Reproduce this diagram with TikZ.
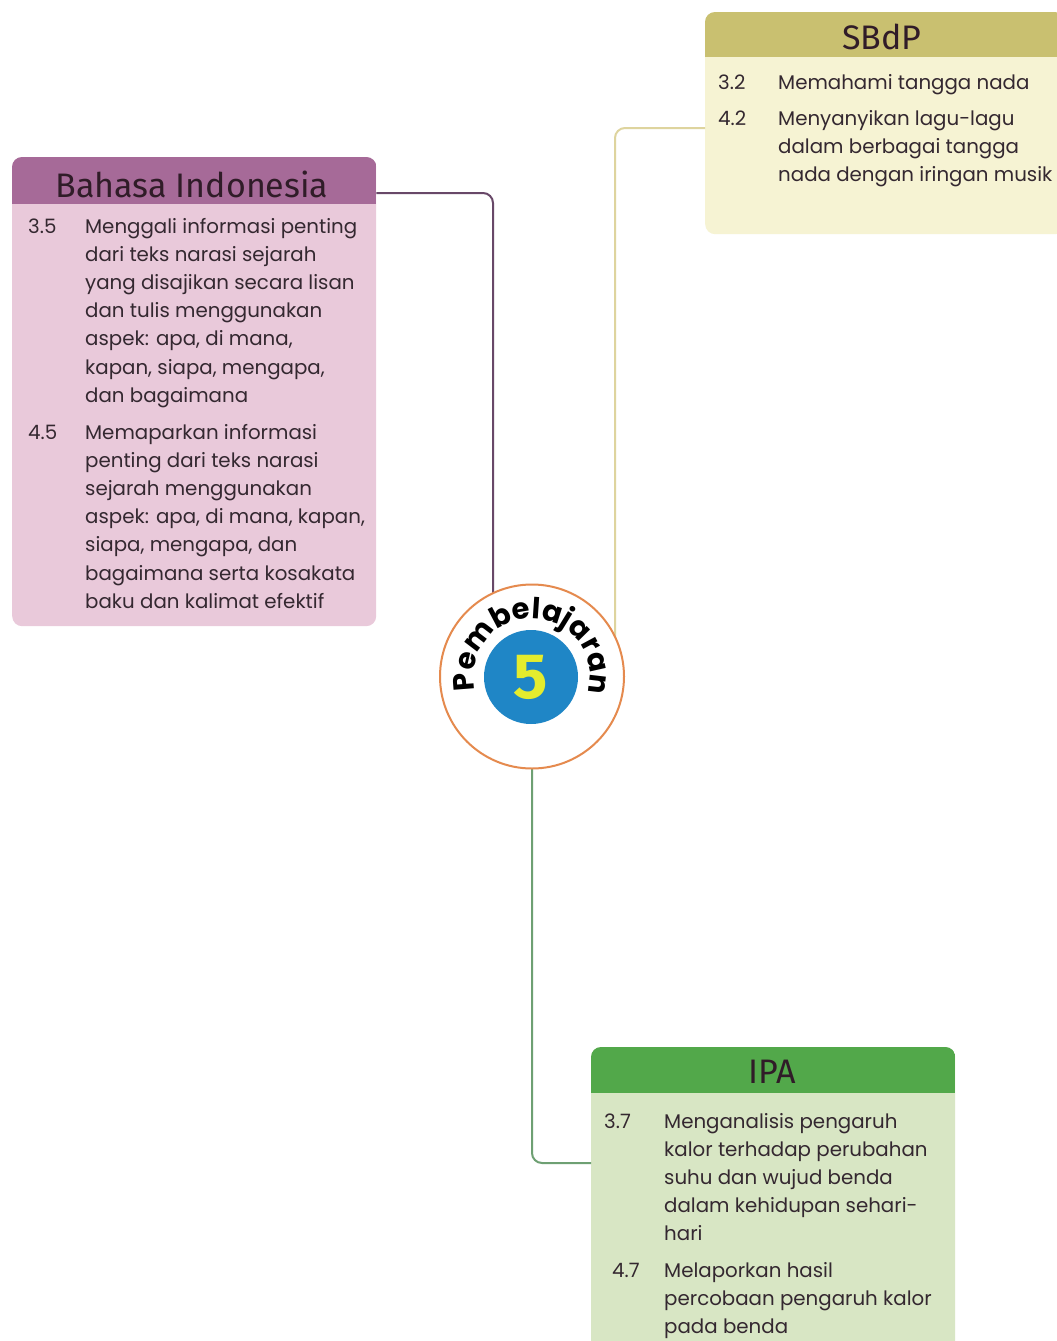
\documentclass[tikz,border=0pt]{standalone}
\usepackage{fontspec}
\setmainfont{Poppins}
\newfontfamily\headfont{Fira Sans}
\newfontfamily\ringfont{Poppins}
\newfontfamily\digitfont{Fira Sans}
\usetikzlibrary{decorations.text,calc}

\definecolor{bihead}{RGB}{166,106,152}
\definecolor{bibody}{RGB}{233,201,218}
\definecolor{biline}{RGB}{104,72,104}
\definecolor{sbhead}{RGB}{201,192,112}
\definecolor{sbbody}{RGB}{246,243,211}
\definecolor{sbline}{RGB}{222,212,158}
\definecolor{ipahead}{RGB}{82,168,74}
\definecolor{ipabody}{RGB}{216,230,196}
\definecolor{ipaline}{RGB}{110,160,115}
\definecolor{ringcol}{RGB}{229,138,78}
\definecolor{bluedisc}{RGB}{31,134,198}
\definecolor{fivecol}{RGB}{228,236,46}
\definecolor{bodytext}{RGB}{52,40,48}
\definecolor{headtext}{RGB}{48,28,40}

\tikzset{
  panel/.style={rounded corners=10pt, inner sep=0pt, anchor=north west},
  title/.style={font=\headfont\fontsize{34}{34}\selectfont, text=headtext, inner sep=0pt},
  % multi-line items are placed by the baseline of their last line
  item/.style={font=\fontsize{19.8}{28.2}\selectfont, text=bodytext, align=left, inner sep=0pt, anchor=base west},
  num/.style={font=\fontsize{19.8}{28.2}\selectfont, text=bodytext, inner sep=0pt, anchor=base west},
  link/.style={rounded corners=10pt, line width=2pt}
}

\begin{document}
\begin{tikzpicture}[x=1pt,y=-1pt]
\useasboundingbox (0,0) rectangle (1057,1341);
\fill[white] (0,0) rectangle (1057,1341);

% panels
\node[panel, fill=bibody, minimum width=364pt, minimum height=469pt] (bi) at (12,157) {};
\node[panel, fill=sbbody, minimum width=360pt, minimum height=222pt] (sb) at (705,12) {};
\node[panel, fill=ipabody, minimum width=364pt, minimum height=330pt] (ipa) at (591,1047) {};

% coloured header strips
\begin{scope}
  \clip[rounded corners=10pt] (bi.north west) rectangle (bi.south east);
  \fill[bihead] (bi.north west) rectangle ++(364,47);
\end{scope}
\begin{scope}
  \clip[rounded corners=10pt] (sb.north west) rectangle (sb.south east);
  \fill[sbhead] (sb.north west) rectangle ++(360,45);
\end{scope}
\begin{scope}
  \clip[rounded corners=10pt] (ipa.north west) rectangle (ipa.south east);
  \fill[ipahead] (ipa.north west) rectangle ++(364,46);
\end{scope}

% titles
\node[title] (bititle) at (192,184) {Bahasa Indonesia};
\node[title] (sbtitle) at (882,37) {SBdP};
\node[title] (ipatitle) at (772,1072) {IPA};

% Bahasa Indonesia items
\node[num] (bin1) at (28,233) {3.5};
\node[item] (bit1) at (85,402.2) {Menggali informasi penting\\dari teks narasi sejarah\\yang disajikan secara lisan\\dan tulis menggunakan\\aspek: apa, di mana,\\kapan, siapa, mengapa,\\dan bagaimana};
\node[num] (bin2) at (28,439) {4.5};
\node[item] (bit2) at (85,608.2) {Memaparkan informasi\\penting dari teks narasi\\sejarah menggunakan\\aspek: apa, di mana, kapan,\\siapa, mengapa, dan\\bagaimana serta kosakata\\baku dan kalimat efektif};

% SBdP items
\node[num] (sbn1) at (718,89) {3.2};
\node[item] (sbt1) at (778,89) {Memahami tangga nada};
\node[num] (sbn2) at (718,125) {4.2};
\node[item] (sbt2) at (778,181.4) {Menyanyikan lagu-lagu\\dalam berbagai tangga\\nada dengan iringan musik};

% IPA items
\node[num] (ipan1) at (604,1128) {3.7};
\node[item] (ipat1) at (664,1240.8) {Menganalisis pengaruh\\kalor terhadap perubahan\\suhu dan wujud benda\\dalam kehidupan sehari-\\hari};
\node[num] (ipan2) at (612,1277) {4.7};
\node[item] (ipat2) at (664,1333.4) {Melaporkan hasil\\percobaan pengaruh kalor\\pada benda};

% centre badge position
\coordinate (cc) at (532,676.5);

% connectors (drawn under the badge)
\draw[link, draw=biline] (bi.north east |- 0,193) -| ($(cc)+(-39,0)$);
\draw[link, draw=sbline] (sb.north west |- 0,128) -| ($(cc)+(83,0)$);
\draw[link, draw=ipaline] (cc) |- (ipa.north west |- 0,1163);

% centre badge
\node[circle, draw=ringcol, line width=2pt, fill=white, minimum size=184pt, inner sep=0pt] (c) at (cc) {};
\node[circle, fill=bluedisc, minimum size=94pt, inner sep=0pt] (c5) at (531,677) {};
\node[text=fivecol, inner sep=0pt, font=\digitfont\bfseries\fontsize{64}{64}\selectfont] (five) at (c5.center) {5};

\begin{scope}[shift={(c.center)}, x=1pt, y=1pt]
  \path[decorate, decoration={text along path, text align=center,
        text={|\ringfont\bfseries\fontsize{29}{29}\selectfont|Pembelajaran}}]
    (200:58) arc[start angle=200, end angle=-23, radius=58];
\end{scope}
\end{tikzpicture}
\end{document}
